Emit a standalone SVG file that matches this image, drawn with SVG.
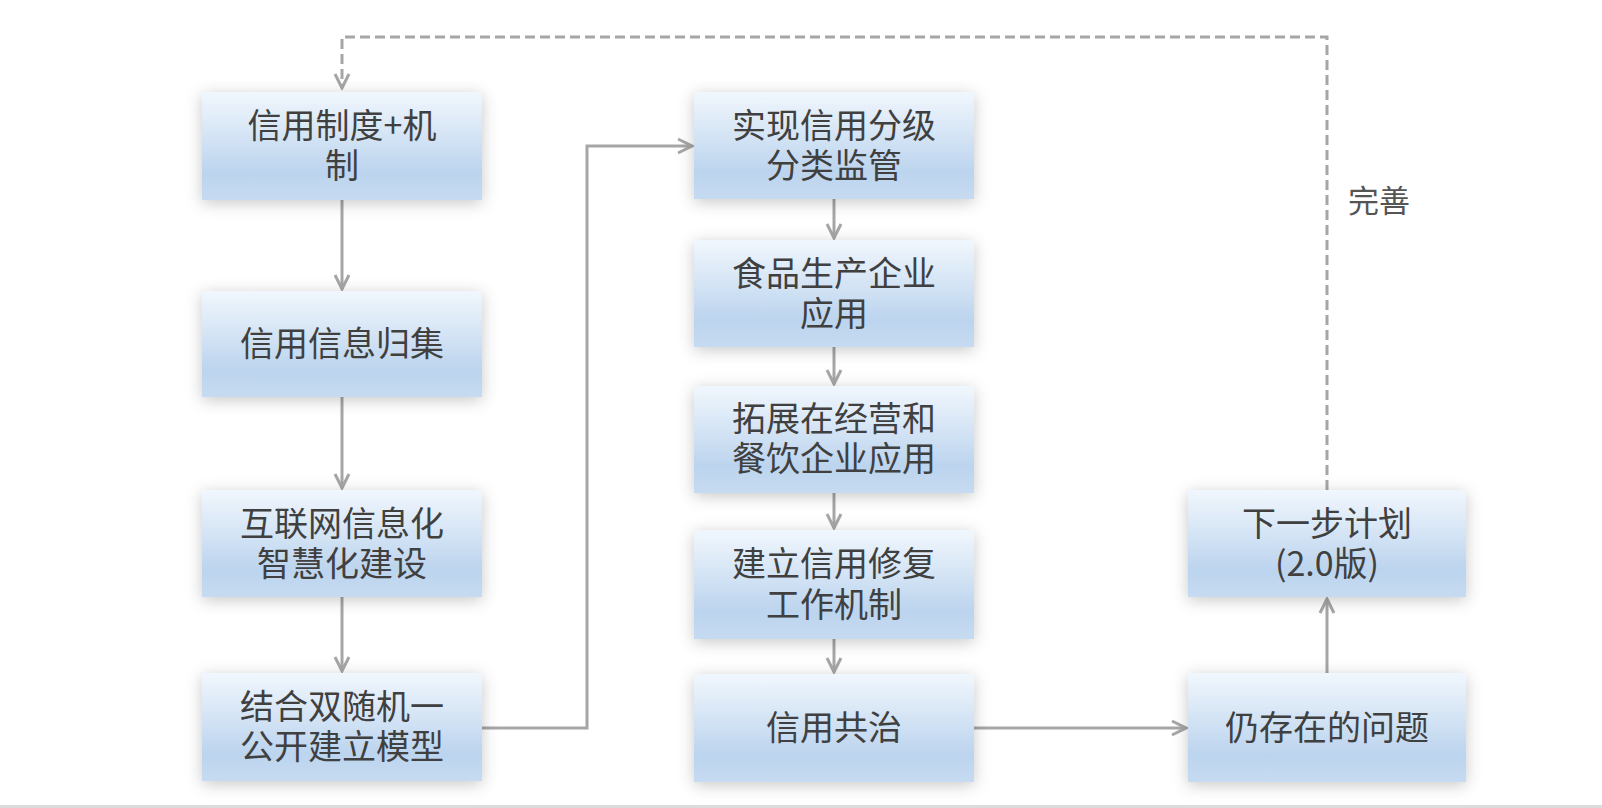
<svg xmlns="http://www.w3.org/2000/svg" width="1602" height="808" viewBox="0 0 1602 808">
<defs>
<linearGradient id="g" x1="0" y1="0" x2="0" y2="1">
<stop offset="0" stop-color="#f1f7fd"/>
<stop offset="0.75" stop-color="#bcd4ee"/>
<stop offset="1" stop-color="#c6dbf1"/>
</linearGradient>
<filter id="sh" x="-20%" y="-30%" width="140%" height="160%">
<feDropShadow dx="0" dy="3" stdDeviation="8" flood-color="#000" flood-opacity="0.22"/>
</filter>
<marker id="ah" viewBox="0 0 18 18" refX="16" refY="9" markerWidth="18" markerHeight="18" markerUnits="userSpaceOnUse" orient="auto">
<path d="M2,2 L16,9 L2,16" fill="none" stroke="#a6a6a6" stroke-width="3"/>
</marker>
<style>
.box{fill:url(#g);filter:url(#sh);}
.t{font-family:"Noto Sans CJK SC","Microsoft YaHei",sans-serif;font-size:34px;fill:#404040;text-anchor:middle;}
.c{fill:none;stroke:#a6a6a6;stroke-width:3;}
.d{fill:none;stroke:#a6a6a6;stroke-width:3;stroke-dasharray:10,5;}
.lbl{font-family:"Noto Sans CJK SC","Microsoft YaHei",sans-serif;font-size:31px;fill:#555;}
</style>
</defs>
<rect width="1602" height="808" fill="#fff"/>
<rect x="0" y="805" width="1602" height="3" fill="#dcdcdc"/>

<g id="connectors">
<path class="d" d="M1327,490 V37 H342 V88" marker-end="url(#ah)"/>
<path class="c" d="M342,200 V289" marker-end="url(#ah)"/>
<path class="c" d="M342,397 V488" marker-end="url(#ah)"/>
<path class="c" d="M342,597 V671" marker-end="url(#ah)"/>
<path class="c" d="M481,728 H587 V146 H692" marker-end="url(#ah)"/>
<path class="c" d="M834,199 V238" marker-end="url(#ah)"/>
<path class="c" d="M834,347 V384" marker-end="url(#ah)"/>
<path class="c" d="M834,493 V528" marker-end="url(#ah)"/>
<path class="c" d="M834,639 V672" marker-end="url(#ah)"/>
<path class="c" d="M974,728 H1186" marker-end="url(#ah)"/>
<path class="c" d="M1327,673 V599" marker-end="url(#ah)"/>
<text class="lbl" x="1348" y="212">完善</text>
</g>

<g id="n1"><rect class="box" x="202" y="92" width="280" height="108"/>
<text class="t" x="342" y="138">信用制度+机<tspan x="342" dy="40">制</tspan></text></g>
<g id="n2"><rect class="box" x="202" y="291" width="280" height="106"/>
<text class="t" x="342" y="356">信用信息归集</text></g>
<g id="n3"><rect class="box" x="202" y="490" width="280" height="107"/>
<text class="t" x="342" y="536">互联网信息化<tspan x="342" dy="40">智慧化建设</tspan></text></g>
<g id="n4"><rect class="box" x="202" y="673" width="280" height="108"/>
<text class="t" x="342" y="719">结合双随机一<tspan x="342" dy="40">公开建立模型</tspan></text></g>

<g id="n5"><rect class="box" x="694" y="92" width="280" height="107"/>
<text class="t" x="834" y="138">实现信用分级<tspan x="834" dy="40">分类监管</tspan></text></g>
<g id="n6"><rect class="box" x="694" y="240" width="280" height="107"/>
<text class="t" x="834" y="286">食品生产企业<tspan x="834" dy="40">应用</tspan></text></g>
<g id="n7"><rect class="box" x="694" y="386" width="280" height="107"/>
<text class="t" x="834" y="431">拓展在经营和<tspan x="834" dy="40">餐饮企业应用</tspan></text></g>
<g id="n8"><rect class="box" x="694" y="530" width="280" height="109"/>
<text class="t" x="834" y="576">建立信用修复<tspan x="834" dy="41">工作机制</tspan></text></g>
<g id="n9"><rect class="box" x="694" y="674" width="280" height="108"/>
<text class="t" x="834" y="740">信用共治</text></g>

<g id="n10"><rect class="box" x="1188" y="490" width="278" height="107"/>
<text class="t" x="1327" y="536">下一步计划<tspan x="1327" dy="40">(2.0版)</tspan></text></g>
<g id="n11"><rect class="box" x="1188" y="673" width="278" height="109"/>
<text class="t" x="1327" y="740">仍存在的问题</text></g>
</svg>
